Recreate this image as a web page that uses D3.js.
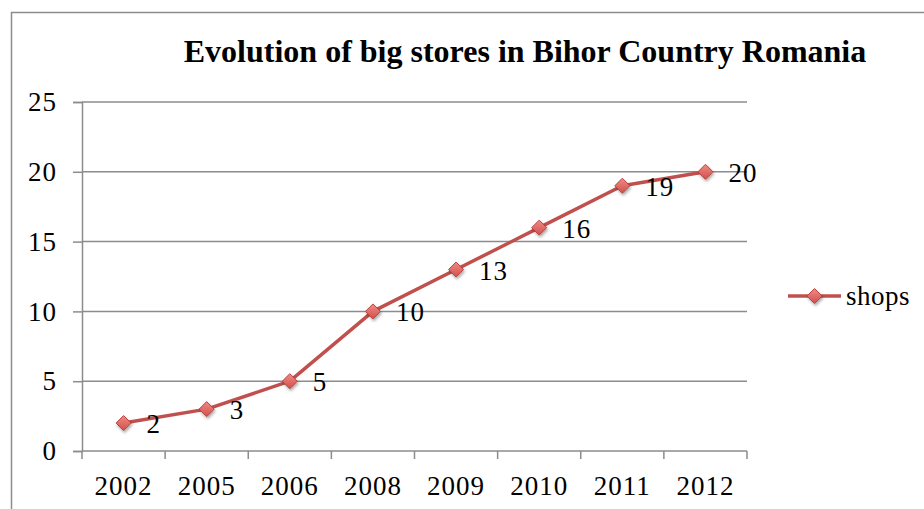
<!DOCTYPE html>
<html>
<head>
<meta charset="utf-8">
<script src="https://cdn.jsdelivr.net/npm/d3@7"></script>
<style>
  body { margin: 0; background: #fff; }
  svg { display: block; }
</style>
</head>
<body>
<svg id="chart"></svg>
<script>
const years = ['2002', '2005', '2006', '2008', '2009', '2010', '2011', '2012'];
const shops = [2, 3, 5, 10, 13, 16, 19, 20];
const yTicks = [0, 5, 10, 15, 20, 25];
const seriesName = 'shops';
const title = 'Evolution of big stores in Bihor Country Romania';

const W = 924, H = 509;
const margin = { top: 102, right: 177, bottom: 58, left: 82 };
const width = W - margin.left - margin.right;
const height = H - margin.top - margin.bottom;

const svg = d3.select('#chart').attr('width', W).attr('height', H);

// outer chart frame (runs off the picture on right / bottom)
svg.append('rect')
  .attr('x', 11.5).attr('y', 12.5)
  .attr('width', 1000).attr('height', 1000)
  .attr('fill', 'none')
  .attr('stroke', '#8c8c8c')
  .attr('stroke-width', 1.5);

svg.append('text')
  .attr('x', 525).attr('y', 62)
  .attr('text-anchor', 'middle')
  .style('font-family', '"Liberation Serif", "Times New Roman", serif')
  .style('font-weight', 'bold')
  .style('font-size', '32px')
  .text(title);

const defs = svg.append('defs');
const grad = defs.append('linearGradient').attr('id', 'mk')
  .attr('x1', 0).attr('y1', 0).attr('x2', 0).attr('y2', 1);
grad.append('stop').attr('offset', '0%').attr('stop-color', '#f08a86');
grad.append('stop').attr('offset', '100%').attr('stop-color', '#d2504b');
const shadow = defs.append('filter').attr('id', 'sh')
  .attr('x', '-50%').attr('y', '-50%').attr('width', '200%').attr('height', '200%');
shadow.append('feDropShadow').attr('dx', 1).attr('dy', 2).attr('stdDeviation', 1.5)
  .attr('flood-color', '#000').attr('flood-opacity', 0.35);

const g = svg.append('g').attr('transform', `translate(${margin.left},${margin.top})`);

const x = d3.scaleBand().domain(years).range([0, width]);
const y = d3.scaleLinear().domain([0, 25]).range([height, 0]);

const font = '"Liberation Serif", "Times New Roman", serif';

// gridlines
g.append('g')
  .selectAll('line')
  .data(yTicks.filter(d => d > 0))
  .join('line')
  .attr('x1', 0).attr('x2', width)
  .attr('y1', d => y(d)).attr('y2', d => y(d))
  .attr('stroke', '#8c8c8c').attr('stroke-width', 1.5);

// y axis
const yAxis = g.append('g')
  .call(d3.axisLeft(y).tickValues(yTicks).tickSize(9).tickPadding(16));
yAxis.select('.domain').attr('stroke', '#8c8c8c').attr('stroke-width', 1.5);
yAxis.selectAll('.tick line').attr('stroke', '#8c8c8c').attr('stroke-width', 1.5);
yAxis.selectAll('.tick text')
  .style('font-family', font).style('font-size', '27px')
  .attr('fill', '#000').attr('letter-spacing', '1px');

// x axis with ticks at band edges
const xAxis = g.append('g').attr('transform', `translate(0,${height})`);
xAxis.append('line')
  .attr('x1', 0).attr('x2', width)
  .attr('stroke', '#8c8c8c').attr('stroke-width', 1.5);
const edges = years.map(d => x(d)).concat([width]);
xAxis.selectAll('.edge')
  .data(edges)
  .join('line')
  .attr('class', 'edge')
  .attr('x1', d => d).attr('x2', d => d)
  .attr('y1', 0).attr('y2', 8)
  .attr('stroke', '#8c8c8c').attr('stroke-width', 1.5);
xAxis.selectAll('.lbl')
  .data(years)
  .join('text')
  .attr('class', 'lbl')
  .attr('x', d => x(d) + x.bandwidth() / 2)
  .attr('y', 44)
  .attr('text-anchor', 'middle')
  .attr('letter-spacing', '1px')
  .style('font-family', font).style('font-size', '27px')
  .text(d => d);

const data = years.map((yr, i) => ({ yr, v: shops[i] }));
const cx = d => x(d.yr) + x.bandwidth() / 2;

g.append('path')
  .datum(data)
  .attr('fill', 'none')
  .attr('stroke', '#c0504d')
  .attr('stroke-width', 3.5)
  .attr('stroke-linejoin', 'round')
  .attr('d', d3.line().x(cx).y(d => y(d.v)));

const diamond = 'M0,-7.5L7.5,0L0,7.5L-7.5,0Z';
g.append('g')
  .selectAll('path')
  .data(data)
  .join('path')
  .attr('transform', d => `translate(${cx(d)},${y(d.v)})`)
  .attr('d', diamond)
  .attr('fill', 'url(#mk)')
  .attr('stroke', '#b8433f')
  .attr('stroke-width', 1)
  .attr('filter', 'url(#sh)');

g.append('g')
  .selectAll('text')
  .data(data)
  .join('text')
  .attr('x', d => cx(d) + 23)
  .attr('y', d => y(d.v) + 10)
  .attr('letter-spacing', '1px')
  .style('font-family', font).style('font-size', '27px')
  .text(d => d.v);

// legend
const lg = svg.append('g').attr('transform', 'translate(788,296)');
lg.append('line').attr('x1', 0).attr('x2', 53)
  .attr('stroke', '#c0504d').attr('stroke-width', 3.5);
lg.append('path').attr('transform', 'translate(26.5,0)')
  .attr('d', diamond)
  .attr('fill', 'url(#mk)').attr('stroke', '#b8433f').attr('stroke-width', 1)
  .attr('filter', 'url(#sh)');
lg.append('text').attr('x', 58).attr('y', 9)
  .attr('letter-spacing', '0.5px')
  .style('font-family', font).style('font-size', '27px')
  .text(seriesName);
</script>
</body>
</html>
